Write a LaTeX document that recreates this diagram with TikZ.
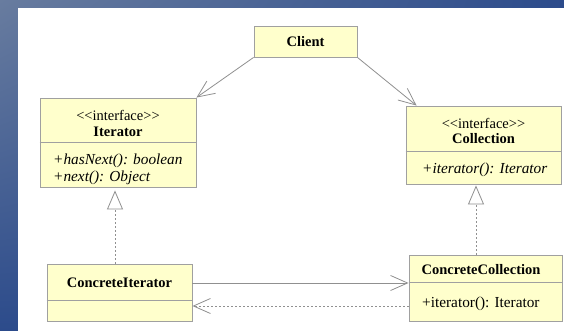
\documentclass[tikz,border=0pt]{standalone}
\usepackage{fontspec}
\setmainfont{Liberation Serif}
\newfontfamily\umlserif{Liberation Serif}
\usetikzlibrary{arrows.meta,shadings}
\definecolor{boxfill}{HTML}{FFFFCC}
\definecolor{boxline}{HTML}{A0A0A0}
\definecolor{conn}{HTML}{909090}
\definecolor{bgA}{HTML}{687C9F}
\definecolor{bgB}{HTML}{2C4B8B}
\begin{document}
\begin{tikzpicture}[x=1pt,y=-1pt,
  umlbox/.style={draw=boxline, fill=boxfill, line width=0.9pt, inner sep=0pt},
  divider/.style={draw=boxline, line width=0.9pt},
  txt/.style={font=\umlserif\fontsize{15.3}{17}\selectfont, inner sep=0pt},
  stereo/.style={font=\umlserif\fontsize{14.5}{16}\selectfont, inner sep=0pt},
  boldtxt/.style={font=\umlserif\fontsize{14.5}{16}\selectfont\bfseries, inner sep=0pt},
  assoc/.style={draw=conn, line width=0.8pt, -{Straight Barb[length=17pt,width=15pt]}},
  dep/.style={assoc, dash pattern=on 2pt off 2pt},
  realize/.style={draw=conn, line width=0.8pt, dash pattern=on 2pt off 2pt,
    -{Triangle[open,length=19pt,width=16pt,fill=white]}}]
\useasboundingbox (0,0) rectangle (564,331);
\shade[upper left=bgA, upper right=bgB, lower left=bgB, lower right=bgB] (0,0) rectangle (564,331);
\fill[white] (18,8) rectangle (564,331);

\coordinate (rA) at (115,0);
\coordinate (rB) at (476,0);
\coordinate (rC) at (0,283);
\coordinate (rD) at (0,306);

% boxes
\node[umlbox, minimum width=103pt, minimum height=31pt] (client) at (305.5,41.5) {};
\node[umlbox, minimum width=156pt, minimum height=89pt] (iter) at (118,142.5) {};
\node[umlbox, minimum width=155pt, minimum height=78pt] (coll) at (483.5,145) {};
\node[umlbox, minimum width=145pt, minimum height=57pt] (citer) at (119.5,292.5) {};
\node[umlbox, minimum width=153pt, minimum height=66pt] (ccoll) at (485.5,288) {};

% dividers
\draw[divider] ([yshift=-45pt]iter.north west) -- ([yshift=-45pt]iter.north east);
\draw[divider] ([yshift=-46pt]coll.north west) -- ([yshift=-46pt]coll.north east);
\draw[divider] ([yshift=-37pt]citer.north west) -- ([yshift=-37pt]citer.north east);
\draw[divider] ([yshift=-28pt]ccoll.north west) -- ([yshift=-28pt]ccoll.north east);

% texts
\node[boldtxt] (clientname) at (client.center) {Client};

\node[stereo] (iterst) at (118,115) {<\kern0pt<interface>\kern0pt>};
\node[boldtxt] (itername) at (118,132) {Iterator};
\node[txt, anchor=west] (iterm1) at (53,161) {\itshape +hasNext(): boolean};
\node[txt, anchor=west] (iterm2) at (53,178) {\itshape +next(): Object};

\node[stereo] (collst) at (483.5,123) {<\kern0pt<interface>\kern0pt>};
\node[boldtxt] (collname) at (483.5,139) {Collection};
\node[txt, anchor=west] (collm) at (422,170) {\itshape +iterator(): Iterator};

\node[boldtxt] (citername) at (citer.center |- rC) {ConcreteIterator};

\node[boldtxt] (ccollname) at (481,270) {ConcreteCollection};
\node[txt, anchor=west] (ccollm) at (422,304) {+iterator(): Iterator};

% connectors
\draw[assoc] (client.south west) -- (iter.north east);
\draw[assoc] (client.south east) -- ([xshift=11pt]coll.north west);
\draw[realize] (rA |- citer.north) -- ([yshift=-3pt]rA |- iter.south);
\draw[realize] (rB |- ccoll.north) -- ([yshift=-1pt]rB |- coll.south);
\draw[assoc] (rC -| citer.east) -- (rC -| ccoll.west);
\draw[dep] (rD -| ccoll.west) -- (rD -| citer.east);
\end{tikzpicture}
\end{document}
